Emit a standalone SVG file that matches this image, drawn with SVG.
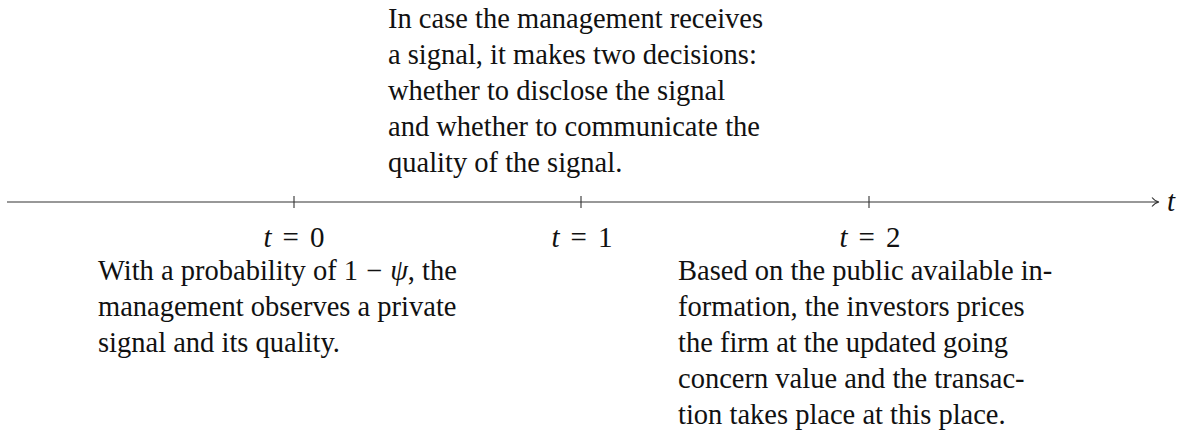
<svg xmlns="http://www.w3.org/2000/svg" width="1185" height="435" viewBox="0 0 1185 435">
<style>
.t{font-family:"Liberation Serif","DejaVu Serif",serif;font-size:28.5px;fill:#111}
.m{font-family:"Liberation Serif","DejaVu Serif",serif;font-size:29px;fill:#111}
.i{font-style:italic}
.ax{stroke:#333;stroke-width:1.1;fill:none}
</style>
<rect width="1185" height="435" fill="#fff"/>
<g id="connectors">
<line class="ax" x1="7" y1="202" x2="1158" y2="202"/>
<path class="ax" d="M1152,197.5 C1154,200 1156,201.5 1159,202 C1156,202.5 1154,204 1152,206.5"/>
</g>
<g id="axis-label"><text class="m i" x="1167" y="211">t</text></g>
<g id="tick0"><line class="ax" x1="294" y1="196" x2="294" y2="208"/><text class="m" x="294" y="247" text-anchor="middle"><tspan class="i">t</tspan><tspan dx="11">=</tspan><tspan dx="11">0</tspan></text></g>
<g id="tick1"><line class="ax" x1="581" y1="196" x2="581" y2="208"/><text class="m" x="582" y="247" text-anchor="middle"><tspan class="i">t</tspan><tspan dx="11">=</tspan><tspan dx="11">1</tspan></text></g>
<g id="tick2"><line class="ax" x1="869" y1="196" x2="869" y2="208"/><text class="m" x="870" y="247" text-anchor="middle"><tspan class="i">t</tspan><tspan dx="11">=</tspan><tspan dx="11">2</tspan></text></g>
<g id="note-t1">
<text class="t" x="388" y="28">In case the management receives</text>
<text class="t" x="388" y="64">a signal, it makes two decisions:</text>
<text class="t" x="388" y="100">whether to disclose the signal</text>
<text class="t" x="388" y="136">and whether to communicate the</text>
<text class="t" x="388" y="172">quality of the signal.</text>
</g>
<g id="note-t0">
<text class="t" x="98" y="280">With a probability of 1<tspan dx="8">−</tspan><tspan class="i" dx="8">ψ</tspan>, the</text>
<text class="t" x="98" y="316">management observes a private</text>
<text class="t" x="98" y="352">signal and its quality.</text>
</g>
<g id="note-t2">
<text class="t" x="678" y="280">Based on the public available in-</text>
<text class="t" x="678" y="316">formation, the investors prices</text>
<text class="t" x="678" y="352">the firm at the updated going</text>
<text class="t" x="678" y="388">concern value and the transac-</text>
<text class="t" x="678" y="424">tion takes place at this place.</text>
</g>
</svg>
